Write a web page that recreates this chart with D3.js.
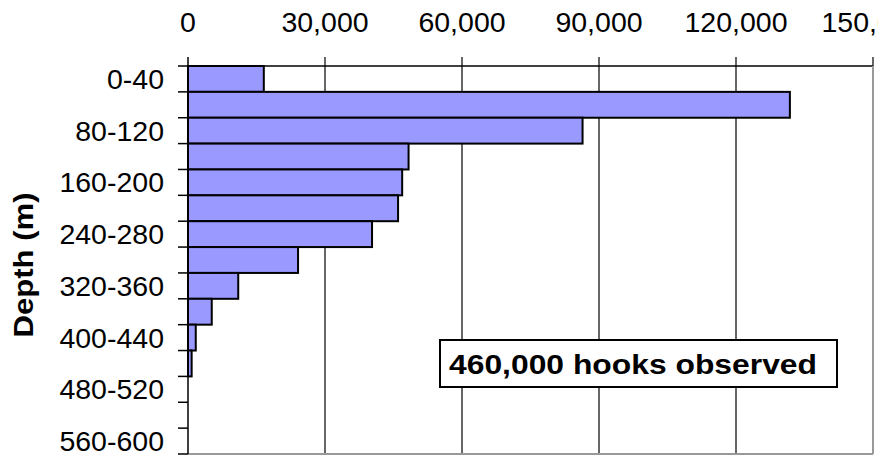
<!DOCTYPE html>
<html>
<head>
<meta charset="utf-8">
<script src="https://cdn.jsdelivr.net/npm/d3@7/dist/d3.min.js"></script>
<style>
  html, body { margin: 0; padding: 0; background: #fff; }
  svg { display: block; font-family: "Liberation Sans", Arial, sans-serif; }
</style>
</head>
<body>
<svg id="chart" width="878" height="457"></svg>
<script>
// Hooks observed per 40 m depth bin
const depthBins = ["0-40", "40-80", "80-120", "120-160", "160-200", "200-240", "240-280",
  "280-320", "320-360", "360-400", "400-440", "440-480", "480-520", "520-560", "560-600"];
const hooks = [16600, 131800, 86400, 48300, 46900, 46000, 40300,
  24100, 11000, 5200, 1700, 800, 0, 0, 0];
const xTicks = [0, 30000, 60000, 90000, 120000, 150000];
const labelledBins = ["0-40", "80-120", "160-200", "240-280", "320-360", "400-440", "480-520", "560-600"];
const noteText = "460,000 hooks observed";
const axisTitle = "Depth (m)";

const svg = d3.select("#chart");
const plotLeft = 188, plotRight = 873, plotTop = 66, plotBottom = 454;

const x = d3.scaleLinear().domain([0, 150000]).range([plotLeft, plotRight]);
const y = d3.scaleBand().domain(depthBins).range([plotTop, plotBottom]).padding(0);

// vertical gridlines with tick stubs above the plot
svg.append("g").selectAll("line").data(xTicks.slice(1)).join("line")
  .attr("x1", d => x(d)).attr("x2", d => x(d))
  .attr("y1", plotTop - 9).attr("y2", plotBottom)
  .attr("stroke", "#000").attr("stroke-width", 1.2);

// plot frame: black top, grey right/bottom
svg.append("line").attr("x1", plotLeft).attr("x2", plotRight).attr("y1", plotTop).attr("y2", plotTop)
  .attr("stroke", "#000").attr("stroke-width", 1.5);
svg.append("line").attr("x1", plotRight).attr("x2", plotRight).attr("y1", plotTop).attr("y2", plotBottom)
  .attr("stroke", "#999").attr("stroke-width", 2);
svg.append("line").attr("x1", plotLeft).attr("x2", plotRight).attr("y1", plotBottom).attr("y2", plotBottom)
  .attr("stroke", "#999").attr("stroke-width", 2);

// top axis labels
svg.append("g").selectAll("text").data(xTicks).join("text")
  .attr("x", d => x(d)).attr("y", 32)
  .attr("text-anchor", "middle").attr("font-size", 28.5).attr("fill", "#000")
  .text(d => d3.format(",")(d));

// bars
svg.append("g").selectAll("rect").data(depthBins.map((b, i) => ({ b, v: hooks[i] })).filter(d => d.v > 0))
  .join("rect")
  .attr("x", x(0)).attr("y", d => y(d.b))
  .attr("width", d => x(d.v) - x(0)).attr("height", y.bandwidth())
  .attr("fill", "#9999ff").attr("stroke", "#000").attr("stroke-width", 2);

// left axis line and band-boundary ticks
svg.append("line").attr("x1", plotLeft).attr("x2", plotLeft).attr("y1", plotTop - 9).attr("y2", plotBottom)
  .attr("stroke", "#000").attr("stroke-width", 1.5);
const boundaries = depthBins.map(b => y(b)).concat([plotBottom]);
svg.append("g").selectAll("line").data(boundaries).join("line")
  .attr("x1", plotLeft - 10).attr("x2", plotLeft).attr("y1", d => d).attr("y2", d => d)
  .attr("stroke", "#000").attr("stroke-width", 1.5);

// category labels (every other bin)
svg.append("g").selectAll("text").data(labelledBins).join("text")
  .attr("x", 164).attr("y", d => y(d) + y.bandwidth() / 2 + 10)
  .attr("text-anchor", "end").attr("font-size", 28.5).attr("fill", "#000")
  .text(d => d);

// axis title
svg.append("text")
  .attr("transform", "translate(33,265) rotate(-90)")
  .attr("text-anchor", "middle").attr("font-size", 28).attr("font-weight", "bold")
  .attr("textLength", 145).attr("lengthAdjust", "spacingAndGlyphs")
  .text(axisTitle);

// annotation box
svg.append("rect").attr("x", 440).attr("y", 340).attr("width", 397).attr("height", 47)
  .attr("fill", "#fff").attr("stroke", "#000").attr("stroke-width", 2);
svg.append("text").attr("x", 449).attr("y", 373.5)
  .attr("font-size", 28).attr("font-weight", "bold")
  .attr("textLength", 368).attr("lengthAdjust", "spacingAndGlyphs")
  .text(noteText);
</script>
</body>
</html>
